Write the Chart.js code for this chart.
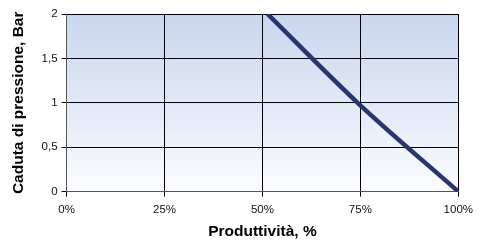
<!DOCTYPE html>
<html>
<head>
<meta charset="utf-8">
<script src="https://cdn.jsdelivr.net/npm/chart.js@4/dist/chart.umd.min.js"></script>
<style>
  html, body { margin: 0; padding: 0; background: #fff; }
  #wrap { width: 479px; height: 242px; }
</style>
</head>
<body>
<div id="wrap"><canvas id="c"></canvas></div>
<script>
// values
const productivity = [51.3, 74.3, 100];
const pressureDrop = [2, 1, 0];
const xTitle = 'Produttività, %';
const yTitle = 'Caduta di pressione, Bar';

// plot background gradient, blue at top fading to white
const plotBg = {
    id: 'plotBg',
    beforeDraw(chart) {
        const { ctx, chartArea: a } = chart;
        const g = ctx.createLinearGradient(0, a.top, 0, a.bottom);
        g.addColorStop(0, '#c8d6ee');
        g.addColorStop(1, '#fbfcfe');
        ctx.save();
        ctx.fillStyle = g;
        ctx.fillRect(a.left, a.top, a.right - a.left, a.bottom - a.top);
        ctx.restore();
    }
};

const font = { family: 'Arial, "Liberation Sans", sans-serif', size: 11.5 };
const titleFont = { family: font.family, size: 15.5, weight: 'bold' };

new Chart(document.getElementById('c'), {
    type: 'line',
    data: {
        datasets: [{
            data: productivity.map((x, i) => ({ x, y: pressureDrop[i] })),
            borderColor: '#293570',
            borderWidth: 4.5,
            pointRadius: 0,
            cubicInterpolationMode: 'monotone',
            fill: false
        }]
    },
    options: {
        responsive: true,
        maintainAspectRatio: false,
        animation: false,
        layout: { padding: { top: 14, right: 8, left: 9, bottom: 1 } },
        plugins: { legend: { display: false }, tooltip: { enabled: false } },
        scales: {
            x: {
                type: 'linear',
                min: 0, max: 100,
                grid: { color: '#000', tickLength: 5, lineWidth: 1 },
                border: { color: '#555' },
                ticks: {
                    stepSize: 25, color: '#111', font, padding: 6,
                    callback: v => v + '%'
                },
                title: {
                    display: true, text: xTitle, color: '#000',
                    font: titleFont,
                    padding: { top: 0, bottom: 0 }
                }
            },
            y: {
                min: 0, max: 2,
                grid: { color: '#000', tickLength: 5, lineWidth: 1 },
                border: { color: '#555' },
                ticks: {
                    stepSize: 0.5, color: '#111', font, padding: 4,
                    callback: v => String(v).replace('.', ',')
                },
                title: {
                    display: true, text: yTitle, color: '#000',
                    font: titleFont,
                    padding: { top: 0, bottom: 10 }
                }
            }
        }
    },
    plugins: [plotBg]
});
</script>
</body>
</html>
